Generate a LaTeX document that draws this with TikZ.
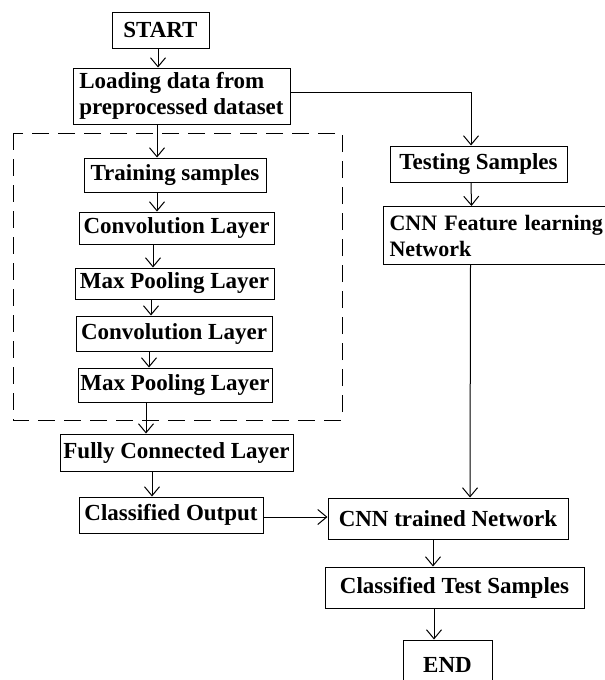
\documentclass[tikz,border=0pt]{standalone}
\usepackage{fontspec}
\setmainfont{Liberation Serif}
\usetikzlibrary{arrows.meta}

\begin{document}
\begin{tikzpicture}[x=1pt,y=-1pt,
    box/.style={draw,line width=1pt,inner sep=0pt,font=\fontsize{23}{26}\selectfont\bfseries},
    arr/.style={-{Straight Barb[length=9pt,width=15pt]},line width=1pt}]
        \useasboundingbox (0,0) rectangle (605,680);
        \clip (0,0) rectangle (605,680);

        % training side
        \node[box,minimum width=97pt,minimum height=36pt] (start) at (160.5,30) {START};
        \node[box,align=left,minimum width=217pt,minimum height=56pt] (load) at (181.5,96) {Loading data from\\preprocessed dataset};
        \node[box,minimum width=182pt,minimum height=34pt] (train) at (175,175) {Training samples};
        \node[box,minimum width=195pt,minimum height=32pt] (conv1) at (176.5,228) {Convolution Layer};
        \node[box,minimum width=199pt,minimum height=31pt] (pool1) at (174.5,283.5) {Max Pooling Layer};
        \node[box,minimum width=196pt,minimum height=35pt] (conv2) at (174,333.5) {Convolution Layer};
        \node[box,minimum width=194pt,minimum height=34pt] (pool2) at (175,385) {Max Pooling Layer};
        \node[box,minimum width=233pt,minimum height=37pt] (fully) at (176.5,452.5) {Fully Connected Layer};
        \node[box,minimum width=184pt,minimum height=36pt] (cout) at (171,515) {Classified Output};

        % testing side
        \node[box,minimum width=177pt,minimum height=36pt] (test) at (478.5,164) {Testing Samples};
        \node[box,font=\fontsize{22}{26}\selectfont\bfseries,align=left,anchor=north west,text width=240pt,inner xsep=6pt,minimum height=58pt] (feat) at (383,206) {CNN Feature learning\\Network};
        \node[box,minimum width=240pt,minimum height=41pt] (cnn) at (448,518.5) {CNN trained Network};
        \node[box,minimum width=259pt,minimum height=41pt] (ctest) at (454.5,587.5) {Classified Test Samples};
        \node[box,minimum width=89pt,minimum height=50pt] (endn) at (447.5,665) {END};

        \draw[line width=1pt,dash pattern=on 17pt off 9pt] (13,133) rectangle (342,420);

        \draw[arr] ([xshift=-2.5pt]start.south) -- ([xshift=-23.5pt]load.north);
        \draw[arr] ([xshift=-24.5pt]load.south) -- ([xshift=-18pt]train.north);
        \draw[arr] ([xshift=-18pt]train.south) -- ([xshift=-19.5pt]conv1.north);
        \draw[arr] ([xshift=-23.5pt]conv1.south) -- ([xshift=-21.5pt]pool1.north);
        \draw[arr] ([xshift=-23.5pt]pool1.south) -- ([xshift=-23pt]conv2.north);
        \draw[arr] ([xshift=-25pt]conv2.south) -- ([xshift=-26pt]pool2.north);
        \draw[arr] ([xshift=-29pt]pool2.south) -- ([xshift=-30.5pt]fully.north);
        \draw[arr] ([xshift=-24.5pt]fully.south) -- ([xshift=-19pt]cout.north);
        \draw[arr] ([yshift=-2pt]cout.east) -- ([yshift=1.5pt]cnn.west);

        \draw[arr] ([yshift=4pt]load.east) -| ([xshift=-7.5pt]test.north);
        \draw[arr] ([xshift=-7.5pt]test.south) -- ([xshift=-38pt]feat.north);
        \draw[arr] ([xshift=-39pt]feat.south) -- ([xshift=22pt]cnn.north);
        \draw[arr] ([xshift=-15pt]cnn.south) -- ([xshift=-21.5pt]ctest.north);
        \draw[arr] ([xshift=-20.5pt]ctest.south) -- ([xshift=-13.5pt]endn.north);
      \end{tikzpicture}
\end{document}
